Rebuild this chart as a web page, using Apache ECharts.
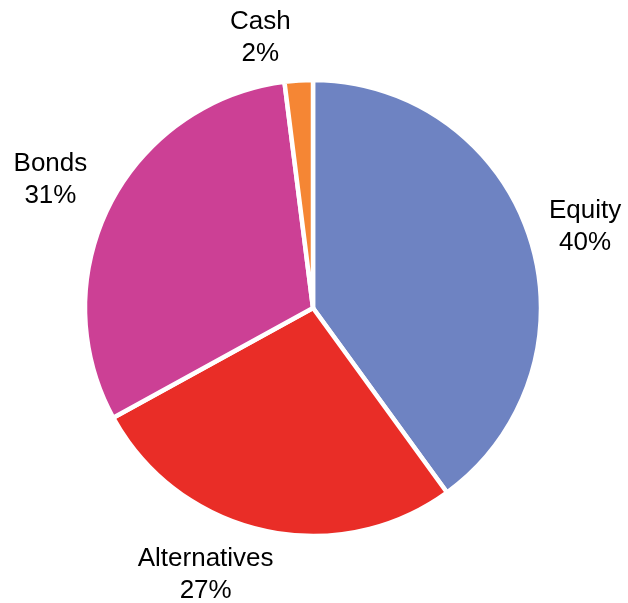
<!DOCTYPE html>
<html>
<head>
<meta charset="utf-8">
<title>Asset allocation</title>
<script src="https://cdn.jsdelivr.net/npm/echarts@6/dist/echarts.min.js"></script>
<style>
  html, body { margin: 0; padding: 0; background: #ffffff; }
  #chart { width: 628px; height: 603px; }
</style>
</head>
<body>
<div id="chart"></div>
<script>
// Portfolio allocation by asset class (percent of total)
const categories = ['Equity', 'Alternatives', 'Bonds', 'Cash'];
const values = [40, 27, 31, 2];

// Slice colours, in category order
const colors = ['#6E83C2', '#E92D27', '#CC4095', '#F58634'];

// Pie geometry (pixels)
const CX = 313, CY = 308, R = 228;
// Distance from centre at which a label's box touches the ray through its slice
const LABEL_R = 250;
// Small hand adjustments that keep labels clear of the canvas edge
const labelNudge = [[0, 6], [-38, -8], [-7, 0], [-35, 11]];

const total = values.reduce((a, b) => a + b, 0);
// Mid angle of each slice, clockwise from 12 o'clock, in radians
const midAngles = [];
{
  let acc = 0;
  values.forEach(v => {
    midAngles.push(((acc + v / 2) / total) * Math.PI * 2);
    acc += v;
  });
}

const chart = echarts.init(document.getElementById('chart'), null, { renderer: 'canvas' });

chart.setOption({
  animation: false,
  backgroundColor: '#ffffff',
  series: [{
    type: 'pie',
    center: [CX, CY],
    radius: [0, R],
    startAngle: 90,
    clockwise: true,
    avoidLabelOverlap: false,
    itemStyle: { borderColor: '#ffffff', borderWidth: 4.5 },
    label: {
      show: true,
      position: 'outside',
      formatter: p => p.name + '\n' + p.value + '%',
      fontFamily: '"Liberation Sans", Arial, sans-serif',
      fontSize: 26,
      lineHeight: 32,
      color: '#000000',
      align: 'center'
    },
    labelLine: { show: false },
    labelLayout: params => {
      const i = params.dataIndex;
      const a = midAngles[i];
      const ux = Math.sin(a), uy = -Math.cos(a);
      const hw = params.labelRect.width / 2;
      const hh = params.labelRect.height / 2;
      return {
        x: CX + ux * LABEL_R + hw * ux + labelNudge[i][0],
        y: CY + uy * LABEL_R + hh * uy + labelNudge[i][1],
        align: 'center',
        verticalAlign: 'middle'
      };
    },
    data: categories.map((name, i) => ({
      name,
      value: values[i],
      itemStyle: { color: colors[i] }
    }))
  }]
});
</script>
</body>
</html>
